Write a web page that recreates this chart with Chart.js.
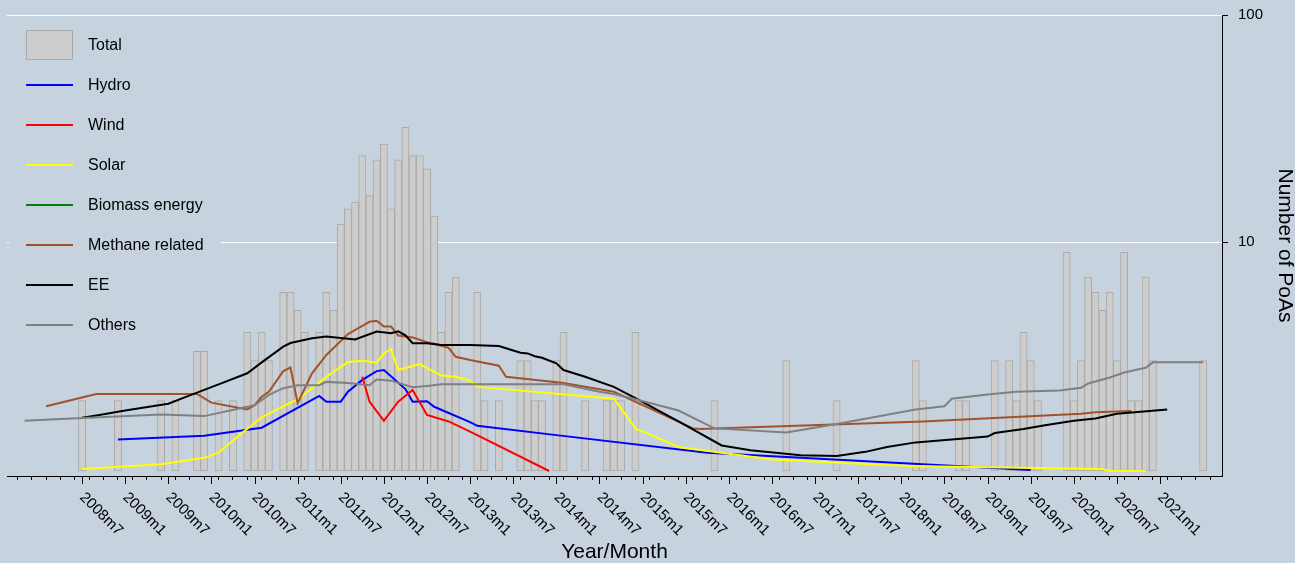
<!DOCTYPE html>
<html>
<head>
<meta charset="utf-8">
<script src="https://cdn.jsdelivr.net/npm/chart.js@4.4.1/dist/chart.umd.min.js"></script>
<style>
  html, body { margin: 0; padding: 0; background: #c6d3df; }
  canvas { display: block; }
</style>
</head>
<body>
<canvas id="c" width="1295" height="563"></canvas>
<script>
// ---------- data ----------
const tickLabels = ['2008m7','2009m1','2009m7','2010m1','2010m7','2011m1','2011m7','2012m1','2012m7','2013m1','2013m7','2014m1','2014m7','2015m1','2015m7','2016m1','2016m7','2017m1','2017m7','2018m1','2018m7','2019m1','2019m7','2020m1','2020m7','2021m1'];
const yTickValues = [10, 100];

const totalMonths = ['2008m7','2008m12','2009m6','2009m8','2009m11','2009m12','2010m2','2010m4','2010m6','2010m7','2010m8','2010m9','2010m11','2010m12','2011m1','2011m2','2011m4','2011m5','2011m6','2011m7','2011m8','2011m9','2011m10','2011m11','2011m12','2012m1','2012m2','2012m3','2012m4','2012m5','2012m6','2012m7','2012m8','2012m9','2012m10','2012m11','2013m2','2013m3','2013m5','2013m8','2013m9','2013m10','2013m11','2014m1','2014m2','2014m5','2014m8','2014m9','2014m10','2014m12','2015m11','2016m9','2017m4','2018m3','2018m4','2018m9','2018m10','2019m2','2019m4','2019m5','2019m6','2019m7','2019m8','2019m12','2020m1','2020m2','2020m3','2020m4','2020m5','2020m6','2020m7','2020m8','2020m9','2020m10','2020m11','2020m12','2021m7'];
const totalCounts = [2,2,2,2,3.3,3.3,2,2,4,3,4,3,6,6,5,4,4,6,5,12,14,15,24,16,23,27,14,23,32,24,24,21,13,4,6,7,6,2,2,3,3,2,2,3,4,2,2,2,2,4,2,3,2,3,2,2,2,3,3,2,4,3,2,9,2,3,7,6,5,6,3,9,2,2,7,3,3];

const hydroMonths = ['2008m12','2009m12','2010m8','2011m4','2011m5','2011m7','2011m8','2011m10','2011m12','2012m1','2012m4','2012m5','2012m7','2012m8','2013m1','2013m2','2014m1','2015m10','2019m7'];
const hydroValues = [1.35,1.40,1.52,2.10,1.98,1.98,2.19,2.47,2.70,2.73,2.25,1.98,1.99,1.88,1.61,1.55,1.41,1.18,0.99];

const windMonths = ['2011m10','2011m11','2012m1','2012m3','2012m5','2012m7','2012m10','2013m1','2013m12'];
const windValues = [2.55,1.98,1.63,1.98,2.23,1.73,1.62,1.46,0.98];

const solarMonths = ['2008m7','2009m6','2009m12','2010m2','2010m5','2010m8','2010m12','2011m1','2011m5','2011m6','2011m8','2011m10','2011m12','2012m1','2012m2','2012m3','2012m6','2012m7','2012m9','2012m11','2013m1','2013m2','2014m9','2014m12','2015m6','2016m7','2018m2','2020m5','2020m6','2020m11'];
const solarValues = [1.00,1.05,1.12,1.18,1.42,1.69,1.96,2.02,2.55,2.68,2.96,3.00,2.94,3.23,3.37,2.73,2.90,2.78,2.58,2.55,2.45,2.30,2.04,1.51,1.25,1.10,1.03,1.00,0.98,0.98];

const biomassMonths = [];
const biomassValues = [];

const methaneMonths = ['2008m2','2008m9','2009m11','2010m1','2010m6','2010m7','2010m8','2010m9','2010m11','2010m12','2011m1','2011m3','2011m5','2011m8','2011m10','2011m11','2011m12','2012m1','2012m2','2012m3','2012m5','2012m7','2012m8','2012m10','2012m11','2013m1','2013m5','2013m6','2014m2','2014m9','2015m8','2015m9','2018m4','2020m2','2020m4','2020m9'];
const methaneValues = [1.89,2.14,2.14,1.96,1.83,1.91,2.08,2.19,2.70,2.80,1.95,2.64,3.18,3.93,4.27,4.45,4.50,4.24,4.24,3.87,3.80,3.62,3.56,3.42,3.12,3.02,2.85,2.55,2.39,2.19,1.51,1.50,1.62,1.75,1.78,1.80];

const eeMonths = ['2008m7','2008m9','2009m1','2009m7','2009m10','2010m2','2010m6','2010m8','2010m11','2010m12','2011m3','2011m5','2011m9','2011m12','2012m2','2012m3','2012m4','2012m5','2012m7','2012m9','2013m1','2013m5','2013m8','2013m9','2013m10','2013m11','2014m1','2014m2','2014m5','2014m9','2014m12','2015m6','2015m12','2016m4','2016m11','2017m4','2017m8','2017m11','2018m3','2019m1','2019m2','2019m6','2019m9','2020m1','2020m4','2020m7','2021m2'];
const eeValues = [1.68,1.72,1.81,1.94,2.11,2.36,2.64,2.95,3.46,3.59,3.77,3.83,3.72,4.03,3.96,4.04,3.88,3.58,3.58,3.52,3.52,3.48,3.25,3.23,3.14,3.09,2.92,2.73,2.55,2.30,2.05,1.62,1.27,1.21,1.15,1.14,1.19,1.25,1.31,1.39,1.44,1.50,1.56,1.63,1.67,1.75,1.83];

const othersMonths = ['2007m11','2008m4','2009m6','2009m12','2010m6','2010m7','2010m9','2010m11','2011m1','2011m4','2011m5','2011m8','2011m11','2011m12','2012m2','2012m5','2012m7','2012m9','2014m2','2014m7','2014m9','2014m12','2015m6','2015m11','2016m9','2017m4','2018m3','2018m7','2018m8','2019m1','2019m5','2019m11','2020m2','2020m3','2020m6','2020m8','2020m11','2020m12','2021m7'];
const othersValues = [1.63,1.66,1.74,1.71,1.88,1.91,2.12,2.27,2.34,2.34,2.42,2.39,2.34,2.48,2.45,2.29,2.32,2.36,2.36,2.19,2.14,2.03,1.81,1.51,1.45,1.58,1.83,1.89,2.04,2.13,2.19,2.22,2.28,2.38,2.53,2.66,2.79,2.95,2.95];

// ---------- helpers ----------
function ym(s) { const p = s.split('m'); return (Number(p[0]) - 2008) * 12 + Number(p[1]) - 1; }
function pts(months, values) { return months.map((m, i) => ({ x: ym(m), y: values[i] })); }

const BG = '#c6d3df';
const FONT = "'Liberation Sans', Arial, Helvetica, sans-serif";
Chart.defaults.font.family = FONT;
Chart.defaults.color = '#000';

const xMin = ym('2007m9') - 0.44;
const xMax = ym('2021m9') + 0.62;

function lineDs(label, color, months, values, order) {
  return { type: 'line', label, data: pts(months, values), borderColor: color, backgroundColor: color,
           borderWidth: 2, pointRadius: 0, tension: 0, fill: false, order, yAxisID: 'y' };
}

const legendPlugin = {
  id: 'stataLegend',
  afterDatasetsDraw(chart) {
    const ctx = chart.ctx;
    ctx.save();
    ctx.fillStyle = BG;
    ctx.fillRect(9, 20, 212, 322);
    ctx.font = '16px ' + FONT;
    ctx.textBaseline = 'middle';
    ctx.textAlign = 'left';
    chart.data.datasets.forEach((ds, i) => {
      const cy = 45 + 40 * i;
      if (ds.type === 'line') {
        ctx.strokeStyle = ds.borderColor; ctx.lineWidth = 2;
        ctx.beginPath(); ctx.moveTo(26, cy); ctx.lineTo(73, cy); ctx.stroke();
      } else {
        ctx.fillStyle = ds.backgroundColor; ctx.fillRect(26.5, cy - 14.5, 46, 29);
        ctx.strokeStyle = ds.borderColor; ctx.lineWidth = 1; ctx.strokeRect(26.5, cy - 14.5, 46, 29);
      }
      ctx.fillStyle = '#000';
      ctx.fillText(ds.label, 88, cy + 1);
    });
    ctx.restore();
  }
};

const xLabelPlugin = {
  id: 'xLabels',
  afterDraw(chart) {
    const xs = chart.scales.x, ctx = chart.ctx;
    ctx.save();
    ctx.strokeStyle = '#000'; ctx.lineWidth = 1;
    ctx.fillStyle = '#000';
    ctx.font = '15px ' + FONT;
    ctx.textAlign = 'left'; ctx.textBaseline = 'middle';
    tickLabels.forEach(lbl => {
      const px = xs.getPixelForValue(ym(lbl));
      const ax = Math.round(px) + 0.5;
      ctx.beginPath(); ctx.moveTo(ax, xs.top); ctx.lineTo(ax, xs.top + 8); ctx.stroke();
      ctx.save();
      ctx.translate(px, xs.top + 19);
      ctx.rotate(Math.PI / 4);
      ctx.fillText(lbl, 0, 0);
      ctx.restore();
    });
    ctx.restore();
  }
};

new Chart(document.getElementById('c'), {
  type: 'bar',
  data: {
    datasets: [
      { type: 'bar', label: 'Total', data: pts(totalMonths, totalCounts), backgroundColor: '#cdcdcd',
        borderColor: '#a9a9a9', borderWidth: 1, borderSkipped: false, base: 0.98,
        barPercentage: 1, categoryPercentage: 1, order: 10, yAxisID: 'y' },
      lineDs('Hydro', '#0000ff', hydroMonths, hydroValues, 7),
      lineDs('Wind', '#ff0000', windMonths, windValues, 6),
      lineDs('Solar', '#ffff00', solarMonths, solarValues, 5),
      lineDs('Biomass energy', '#008000', biomassMonths, biomassValues, 4),
      lineDs('Methane related', '#a0522d', methaneMonths, methaneValues, 3),
      lineDs('EE', '#000000', eeMonths, eeValues, 2),
      lineDs('Others', '#808080', othersMonths, othersValues, 1)
    ]
  },
  options: {
    responsive: false,
    animation: false,
    devicePixelRatio: 1,
    events: [],
    layout: { padding: { left: 7, top: 15, right: 0, bottom: 0 } },
    plugins: { legend: { display: false }, tooltip: { enabled: false } },
    scales: {
      x: {
        type: 'linear', position: 'bottom', min: xMin, max: xMax, offset: false,
        afterBuildTicks: s => {
          const t = [];
          for (let v = ym('2007m9'); v <= ym('2021m9'); v += 2) t.push({ value: v });
          s.ticks = t;
        },
        afterFit: s => { s.height = 87; s.paddingLeft = 0; s.paddingRight = 0; },
        ticks: { display: false, autoSkip: false },
        grid: { drawOnChartArea: false, drawTicks: true, tickLength: 4, tickColor: '#000', color: '#000', lineWidth: 1 },
        border: { display: true, color: '#000', width: 1 },
        title: { display: true, text: 'Year/Month', font: { size: 21, lineHeight: 1 }, padding: 0, color: '#000' }
      },
      y: {
        type: 'logarithmic', position: 'right', min: 0.9315, max: 100,
        afterBuildTicks: s => { s.ticks = yTickValues.map(v => ({ value: v })); },
        afterFit: s => { s.width = 73; s.paddingTop = 0; s.paddingBottom = 0; },
        ticks: { font: { size: 15 }, padding: 10, color: '#000', callback: v => String(v) },
        grid: { drawOnChartArea: true, color: '#ffffff', lineWidth: 1, tickColor: '#000', tickLength: 6 },
        border: { display: true, color: '#000', width: 1 },
        title: { display: true, text: 'Number of PoAs', font: { size: 21, lineHeight: 1 }, padding: 0, color: '#000' }
      }
    }
  },
  plugins: [legendPlugin, xLabelPlugin]
});
</script>
</body>
</html>
